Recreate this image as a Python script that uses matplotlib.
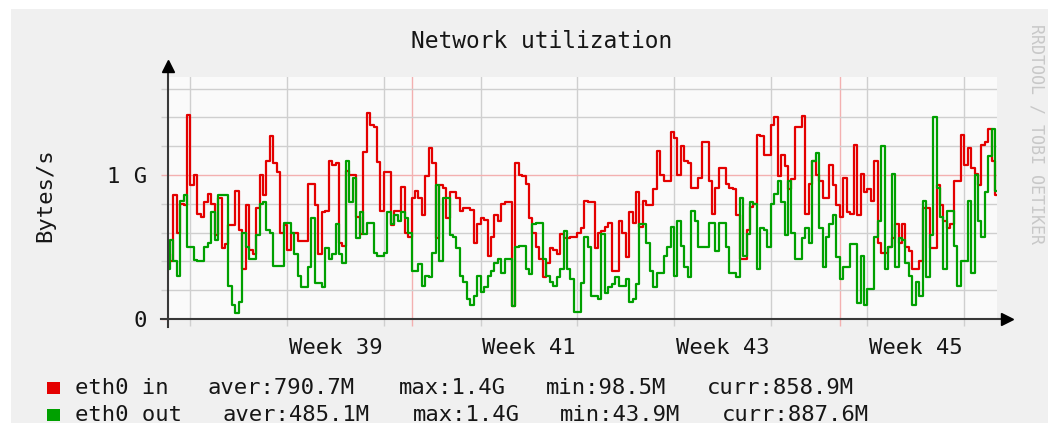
import datetime

import matplotlib
matplotlib.use("Agg")
import matplotlib.pyplot as plt
import matplotlib.dates as mdates
from matplotlib.patches import Rectangle
import pandas as pd

W, H = 1048, 423

# eth0 traffic in GBytes/s, one sample every 6 hours
in_vals = [
    0.45, 0.40, 0.86, 0.60, 0.80, 0.79, 1.42, 0.93, 1.00, 0.73,
    0.71, 0.81, 0.87, 0.80, 0.58, 0.84, 0.49, 0.52, 0.65, 0.65,
    0.89, 0.62, 0.35, 0.79, 0.48, 0.45, 0.77, 1.00, 0.86, 1.10,
    1.27, 1.08, 1.02, 0.60, 0.65, 0.48, 0.60, 0.60, 0.54, 0.54,
    0.54,
    0.94, 0.94, 0.79, 0.45, 0.74, 0.75, 1.10, 1.07, 1.08, 0.53,
    0.51, 1.03, 1.00, 1.00, 0.71, 0.59, 1.16, 1.43, 1.35, 1.33,
    1.09, 0.75, 1.02, 1.02, 0.65, 0.75, 0.75, 0.92, 0.60, 0.57,
    0.84, 0.89, 0.84, 0.72, 0.99, 1.19, 1.08, 0.56, 0.93, 0.91,
    0.70, 0.88, 0.88, 0.84, 0.75, 0.77, 0.77, 0.76, 0.53, 0.66,
    0.70, 0.69, 0.44, 0.57, 0.72, 0.68, 0.80, 0.81, 0.81, 0.09,
    1.08, 1.00, 0.99, 0.94, 0.70, 0.60, 0.50, 0.42, 0.29, 0.39,
    0.49, 0.48, 0.45, 0.59, 0.56, 0.56, 0.57, 0.57, 0.60, 0.63,
    0.82,
    0.81, 0.81, 0.49, 0.60, 0.61, 0.64, 0.67, 0.33, 0.33, 0.68,
    0.60, 0.43, 0.74, 0.67, 0.88, 0.64, 0.82, 0.79, 0.79, 0.90,
    1.17, 1.00, 0.96, 0.96, 1.30, 1.26, 1.00, 1.20, 1.10, 1.08,
    0.91, 0.91, 0.98, 1.23, 1.23, 0.96, 0.73, 0.91, 1.05, 1.05,
    0.94,
    0.91, 0.90, 0.72, 0.42, 0.42, 0.62, 0.78, 0.80, 1.28, 1.27,
    1.14, 1.14, 1.35, 1.40, 0.99, 1.14, 1.06, 0.90, 0.97, 1.33,
    1.33, 1.41, 0.73, 0.94, 1.10, 1.00, 0.96, 0.84, 0.84, 1.07,
    0.93, 0.79, 0.71, 0.98, 0.74, 0.73, 1.21, 0.72, 1.01, 0.88,
    0.90, 0.82, 1.10, 0.53, 0.46, 0.46, 0.50, 0.56, 0.66, 0.53,
    0.66, 0.50, 0.47, 0.35, 0.35, 0.40, 0.77, 0.77, 0.49, 0.49,
    0.93, 0.79, 0.68, 0.63, 0.66, 0.96, 0.96, 1.28, 1.07, 1.19,
    1.05, 1.01, 0.93, 1.21, 1.23, 1.32, 1.10, 0.86,
]
out_vals = [
    0.35, 0.55, 0.40, 0.30, 0.82, 0.86, 0.50, 0.50, 0.41, 0.40,
    0.40, 0.50, 0.53, 0.74, 0.55, 0.86, 0.86, 0.86, 0.23, 0.10,
    0.04, 0.12, 0.60, 0.50, 0.42, 0.42, 0.58, 0.80, 0.81, 0.62,
    0.60, 0.37, 0.37, 0.37, 0.67, 0.67, 0.60, 0.45, 0.30, 0.22,
    0.22,
    0.36, 0.70, 0.25, 0.25, 0.22, 0.49, 0.42, 0.45, 0.66, 0.45,
    0.39, 1.10, 0.81, 0.98, 0.56, 0.74, 0.59, 0.67, 0.67, 0.46,
    0.44, 0.44, 0.46, 0.74, 0.66, 0.72, 0.68, 0.74, 0.70, 0.60,
    0.33, 0.33, 0.38, 0.23, 0.30, 0.29, 0.46, 0.93, 0.40, 0.84,
    0.84, 0.58, 0.57, 0.49, 0.30, 0.26, 0.14, 0.10, 0.16, 0.30,
    0.19, 0.22, 0.30, 0.33, 0.39, 0.42, 0.32, 0.42, 0.42, 0.09,
    0.50, 0.51, 0.51, 0.35, 0.31, 0.66, 0.67, 0.67, 0.42, 0.30,
    0.26, 0.23, 0.29, 0.35, 0.61, 0.35, 0.28, 0.05, 0.05, 0.25,
    0.57,
    0.50, 0.16, 0.16, 0.14, 0.59, 0.18, 0.22, 0.24, 0.29, 0.23,
    0.23, 0.28, 0.12, 0.14, 0.24, 0.66, 0.66, 0.53, 0.33, 0.22,
    0.32, 0.32, 0.44, 0.50, 0.64, 0.30, 0.68, 0.51, 0.36, 0.29,
    0.75, 0.68, 0.50, 0.50, 0.50, 0.67, 0.67, 0.47, 0.67, 0.67,
    0.50,
    0.32, 0.32, 0.29, 0.84, 0.44, 0.59, 0.81, 0.80, 0.35, 0.63,
    0.62, 0.50, 0.80, 0.87, 0.96, 0.81, 0.58, 0.96, 0.60, 0.42,
    0.42, 0.56, 0.63, 0.53, 1.10, 1.15, 0.63, 0.36, 0.57, 0.66,
    0.72, 0.43, 0.28, 0.36, 0.36, 0.52, 0.52, 0.11, 0.44, 0.10,
    0.21, 0.21, 0.57, 0.68, 1.20, 0.35, 0.50, 1.01, 0.36, 0.56,
    0.55, 0.39, 0.30, 0.10, 0.26, 0.16, 0.82, 0.29, 0.58, 1.40,
    0.91, 0.71, 0.35, 0.75, 0.75, 0.51, 0.23, 0.40, 0.40, 0.82,
    0.32, 1.00, 0.68, 0.57, 0.88, 1.13, 1.32, 0.89,
]

week_numbers = [39, 41, 43, 45]
legend_in = ["eth0 in", "aver:790.7M", "max:1.4G", "min:98.5M", "curr:858.9M"]
legend_out = ["eth0 out", "aver:485.1M", "max:1.4G", "min:43.9M", "curr:887.6M"]

RED = "#e40000"
GREEN = "#00a000"
GRID = "#cfcfcf"
MGRID = "#f3b0b0"
AXIS = "#383838"
TXT = "#161616"

plt.rcParams["font.family"] = ["DejaVu Sans Mono", "DejaVu Sans"]


def fx(px):
    return px / W


def fy(py):
    return 1 - py / H


times = pd.date_range("2014-09-13 09:00", periods=len(in_vals), freq="6h")

fig = plt.figure(figsize=(W / 100, H / 100), dpi=100, facecolor="white")
# rrdtool-like grey back, drawn under everything
fig.patches.append(Rectangle((fx(11), 0), 1 - fx(11), fy(9), transform=fig.transFigure,
                             facecolor="#f0f0f0", edgecolor="none", zorder=-10))

ax = fig.add_axes([fx(168), fy(319), (997 - 168) / W, (319 - 77) / H])
ax.set_facecolor("#fafafa")
ax.set_xlim(times[0], times[-1])
ax.set_ylim(0, (319 - 77) / 144)

ax.step(times, in_vals, where="mid", color=RED, lw=1.6, zorder=3)
ax.step(times, out_vals, where="mid", color=GREEN, lw=1.6, zorder=4)

# grid: weeks grey, months red; 0.2G grey, 1G red
ax.xaxis.set_major_locator(mdates.MonthLocator())
ax.xaxis.set_minor_locator(mdates.WeekdayLocator(byweekday=mdates.MO))
ax.xaxis.set_major_formatter(plt.NullFormatter())
ax.set_yticks([0, 1])
ax.set_yticklabels(["0", "1 G"])
ax.set_yticks([0.2, 0.4, 0.6, 0.8, 1.2, 1.4, 1.6], minor=True)
ax.grid(True, which="major", color=MGRID, lw=1.0, zorder=1)
ax.grid(True, which="minor", color=GRID, lw=1.0, zorder=1)
ax.set_axisbelow(True)
ax.tick_params(which="both", direction="out", length=5, width=1.0)
ax.tick_params(axis="x", which="major", color=MGRID)
ax.tick_params(axis="x", which="minor", color=GRID)
ax.tick_params(axis="y", which="major", color=MGRID, labelsize=16, pad=10, labelcolor=TXT)
ax.tick_params(axis="y", which="minor", color=GRID)
for s in ax.spines.values():
    s.set_visible(False)

# axes with arrows
ax.plot([0, 0], [(319 - 327) / 242, (319 - 66) / 242], transform=ax.transAxes,
        color=AXIS, lw=1.5, clip_on=False, zorder=5)
ax.plot([(161 - 168) / 829, (1006 - 168) / 829], [0, 0], transform=ax.transAxes,
        color=AXIS, lw=1.5, clip_on=False, zorder=5)
ax.plot(0, (319 - 66) / 242, marker="^", ms=8, color="black", transform=ax.transAxes,
        clip_on=False, zorder=6)
ax.plot((1007 - 168) / 829, 0, marker=">", ms=8, color="black", transform=ax.transAxes,
        clip_on=False, zorder=6)

# week labels centred on each week (Thursday noon)
for wk in week_numbers:
    thu = datetime.datetime.combine(datetime.date.fromisocalendar(2014, wk, 4),
                                    datetime.time(12))
    ax.text(thu, (319 - 354) / 242, f"Week {wk}", transform=ax.get_xaxis_transform(),
            ha="center", va="baseline", fontsize=16, color=TXT)

fig.text(fx(542), fy(48), "Network utilization", ha="center", va="baseline",
         fontsize=16.5, color=TXT)
fig.text(fx(45), fy(195), "Bytes/s", rotation=90, ha="center", va="center",
         fontsize=16, color=TXT)
fig.text(fx(1037), fy(24), "RRDTOOL / TOBI OETIKER", rotation=270, ha="center", va="top",
         fontsize=12, color="#c8c8c8")

# legend rows
char_w = 14.7
rows = [(legend_in, RED, 394, [0, 9, 22, 32, 43]),
        (legend_out, GREEN, 421, [0, 10, 23, 33, 44])]
for fields, col, base, offs in rows:
    fig.patches.append(Rectangle((fx(47), fy(base)), 13 / W, 12 / H, transform=fig.transFigure,
                                 facecolor=col, edgecolor="none", zorder=2))
    for txt, off in zip(fields, offs):
        fig.text(fx(75 + off * char_w), fy(base), txt, ha="left", va="baseline",
                 fontsize=16, color=TXT)

fig.savefig("out.png", dpi=100, facecolor=fig.get_facecolor())
